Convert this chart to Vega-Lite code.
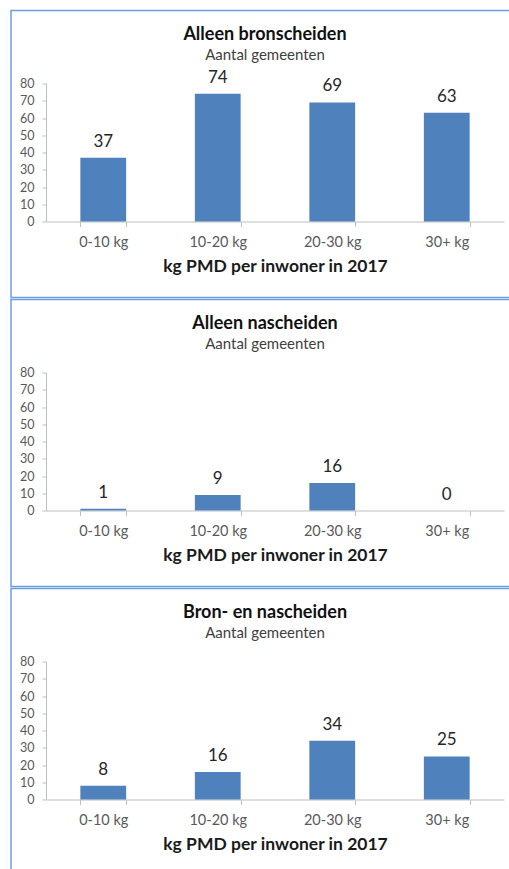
{
  "$schema": "https://vega.github.io/schema/vega-lite/v6.json",
  "padding": {"left": 10, "top": 9.5, "right": -22, "bottom": -2},
  "background": "white",
  "datasets": {
    "pmd": [
      {"panel": "Alleen bronscheiden", "klasse": "0-10 kg", "aantal": 37},
      {"panel": "Alleen bronscheiden", "klasse": "10-20 kg", "aantal": 74},
      {"panel": "Alleen bronscheiden", "klasse": "20-30 kg", "aantal": 69},
      {"panel": "Alleen bronscheiden", "klasse": "30+ kg", "aantal": 63},
      {"panel": "Alleen nascheiden", "klasse": "0-10 kg", "aantal": 1},
      {"panel": "Alleen nascheiden", "klasse": "10-20 kg", "aantal": 9},
      {"panel": "Alleen nascheiden", "klasse": "20-30 kg", "aantal": 16},
      {"panel": "Alleen nascheiden", "klasse": "30+ kg", "aantal": 0},
      {"panel": "Bron- en nascheiden", "klasse": "0-10 kg", "aantal": 8},
      {"panel": "Bron- en nascheiden", "klasse": "10-20 kg", "aantal": 16},
      {"panel": "Bron- en nascheiden", "klasse": "20-30 kg", "aantal": 34},
      {"panel": "Bron- en nascheiden", "klasse": "30+ kg", "aantal": 25}
    ]
  },
  "config": {
    "font": "Lato",
    "view": {"stroke": "#6a9fe0", "strokeWidth": 1.5},
    "axis": {
      "domainColor": "#bfbfbf",
      "tickColor": "#bfbfbf",
      "labelColor": "#595959",
      "labelFont": "Lato",
      "titleFont": "Lato",
      "titleFontWeight": "bold",
      "titleFontSize": 17.5,
      "titleColor": "#1a1a1a"
    },
    "axisX": {"labelFontSize": 14.5, "tickSize": 5, "labelPadding": 9, "titlePadding": 8.5, "labelAngle": 0, "tickBand": "extent", "offset": -76},
    "axisY": {"labelFontSize": 12.5, "tickSize": 4, "labelPadding": 8, "grid": false, "offset": -35},
    "title": {
      "font": "Lato",
      "fontSize": 18,
      "fontWeight": "bold",
      "color": "#111111",
      "subtitleFont": "Lato",
      "subtitleFontSize": 15,
      "subtitleColor": "#404040",
      "subtitlePadding": 4,
      "anchor": "middle",
      "frame": "group",
      "offset": -52,
      "dx": -6
    },
    "text": {"font": "Lato"}
  },
  "spacing": 0,
  "vconcat": [
    {
      "title": {"text": "Alleen bronscheiden", "subtitle": "Aantal gemeenten"},
      "width": 520,
      "height": 287,
      "data": {"name": "pmd"},
      "transform": [{"filter": "datum.panel === 'Alleen bronscheiden'"}],
      "encoding": {
        "x": {"field": "klasse", "type": "nominal", "sort": ["0-10 kg", "10-20 kg", "20-30 kg", "30+ kg"], "scale": {"range": [35, 493], "paddingInner": 0.6, "paddingOuter": 0.3}, "axis": {"title": "kg PMD per inwoner in 2017"}},
        "y": {"field": "aantal", "type": "quantitative", "scale": {"domain": [0, 80], "range": [211, 73]}, "axis": {"title": null, "values": [0, 10, 20, 30, 40, 50, 60, 70, 80], "labelOverlap": false}}
      },
      "layer": [
        {"mark": {"type": "bar", "color": "#4F81BD"}},
        {"mark": {"type": "text", "baseline": "alphabetic", "dy": -11, "fontSize": 17, "color": "#262626"}, "encoding": {"text": {"field": "aantal", "type": "quantitative"}}}
      ]
    },
    {
      "title": {"text": "Alleen nascheiden", "subtitle": "Aantal gemeenten"},
      "width": 520,
      "height": 287,
      "data": {"name": "pmd"},
      "transform": [{"filter": "datum.panel === 'Alleen nascheiden'"}],
      "encoding": {
        "x": {"field": "klasse", "type": "nominal", "sort": ["0-10 kg", "10-20 kg", "20-30 kg", "30+ kg"], "scale": {"range": [35, 493], "paddingInner": 0.6, "paddingOuter": 0.3}, "axis": {"title": "kg PMD per inwoner in 2017"}},
        "y": {"field": "aantal", "type": "quantitative", "scale": {"domain": [0, 80], "range": [211, 73]}, "axis": {"title": null, "values": [0, 10, 20, 30, 40, 50, 60, 70, 80], "labelOverlap": false}}
      },
      "layer": [
        {"mark": {"type": "bar", "color": "#4F81BD"}},
        {"mark": {"type": "text", "baseline": "alphabetic", "dy": -11, "fontSize": 17, "color": "#262626"}, "encoding": {"text": {"field": "aantal", "type": "quantitative"}}}
      ]
    },
    {
      "title": {"text": "Bron- en nascheiden", "subtitle": "Aantal gemeenten"},
      "width": 520,
      "height": 287,
      "data": {"name": "pmd"},
      "transform": [{"filter": "datum.panel === 'Bron- en nascheiden'"}],
      "encoding": {
        "x": {"field": "klasse", "type": "nominal", "sort": ["0-10 kg", "10-20 kg", "20-30 kg", "30+ kg"], "scale": {"range": [35, 493], "paddingInner": 0.6, "paddingOuter": 0.3}, "axis": {"title": "kg PMD per inwoner in 2017"}},
        "y": {"field": "aantal", "type": "quantitative", "scale": {"domain": [0, 80], "range": [211, 73]}, "axis": {"title": null, "values": [0, 10, 20, 30, 40, 50, 60, 70, 80], "labelOverlap": false}}
      },
      "layer": [
        {"mark": {"type": "bar", "color": "#4F81BD"}},
        {"mark": {"type": "text", "baseline": "alphabetic", "dy": -11, "fontSize": 17, "color": "#262626"}, "encoding": {"text": {"field": "aantal", "type": "quantitative"}}}
      ]
    }
  ]
}
